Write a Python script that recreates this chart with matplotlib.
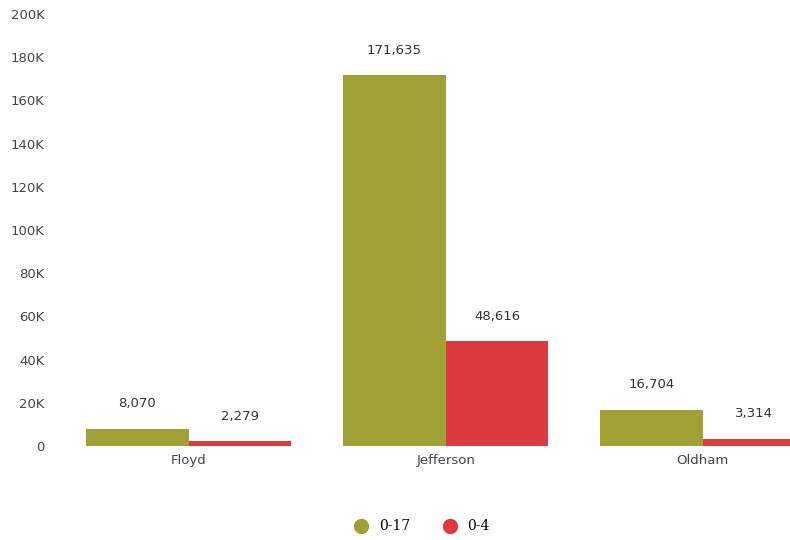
import matplotlib
matplotlib.use("Agg")
from matplotlib import pyplot as plt
from matplotlib.lines import Line2D
from matplotlib.ticker import FuncFormatter
import numpy as np

counties = ["Floyd", "Jefferson", "Oldham"]
age_0_17 = [8070, 171635, 16704]
age_0_4 = [2279, 48616, 3314]
series_names = ["0-17", "0-4"]
colors = ["#a0a034", "#dd3a3f"]

fig = plt.figure(figsize=(7.9, 5.4), dpi=100)
ax = fig.add_axes([0.076, 0.174, 0.924, 0.80])

x = np.arange(len(counties))
w = 0.4
bars1 = ax.bar(x - w / 2, age_0_17, w, color=colors[0])
bars2 = ax.bar(x + w / 2, age_0_4, w, color=colors[1])

for bars, vals in ((bars1, age_0_17), (bars2, age_0_4)):
    for b, v in zip(bars, vals):
        ax.annotate(f"{v:,}", (b.get_x() + b.get_width() / 2, v),
                    xytext=(0, 18), textcoords="offset points",
                    ha="center", va="center", fontsize=9.5, color="#333333")

ax.set_ylim(0, 200000)
ax.set_xlim(-0.5, 2.34)
ax.set_yticks(np.arange(0, 200001, 20000))
ax.yaxis.set_major_formatter(FuncFormatter(lambda v, p: "0" if v == 0 else f"{int(v / 1000)}K"))
ax.set_xticks(x)
ax.set_xticklabels(counties)
ax.tick_params(axis="both", length=0, labelsize=9.5, colors="#444444")
ax.tick_params(axis="y", pad=11)
ax.tick_params(axis="x", pad=6)
for s in ax.spines.values():
    s.set_visible(False)

handles = [Line2D([], [], marker="o", linestyle="", markersize=10,
                  markerfacecolor=c, markeredgecolor=c) for c in colors]
fig.legend(handles, series_names, loc="center", bbox_to_anchor=(0.53, 0.025),
           ncol=2, frameon=False, handletextpad=0.3, columnspacing=1.8,
           prop={"family": "DejaVu Serif", "size": 10})

fig.savefig("out.png", dpi=100)
